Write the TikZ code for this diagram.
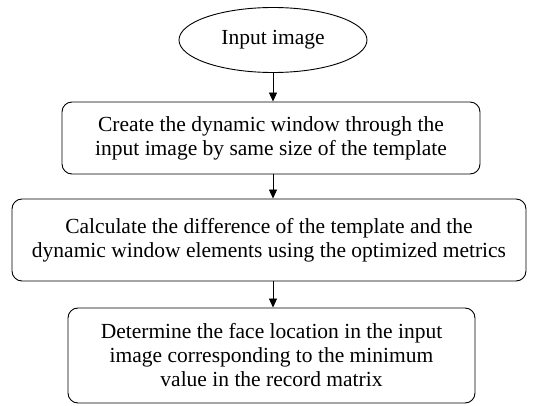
\documentclass[tikz,border=0pt]{standalone}
\usepackage{fontspec}
\setmainfont{Liberation Serif}
\usetikzlibrary{shapes.geometric,arrows.meta}
\begin{document}
\begin{tikzpicture}[x=1pt,y=1pt,
  every node/.style={font=\fontsize{21.5}{24}\selectfont, align=center, inner sep=0pt},
  proc/.style={draw, rounded corners=10pt, line width=0.9pt},
  term/.style={draw, ellipse, line width=0.9pt},
  flow/.style={-{Triangle[length=9pt,width=8pt]}, line width=0.9pt}]
\useasboundingbox (0,0) rectangle (544,-406);
\node[term, minimum width=188pt, minimum height=65pt] (a) at (273,-40) {Input image};
\node[proc, minimum width=418pt, minimum height=72pt] (b) at (271,-138) {Create the dynamic window through the\\input image by same size of the template};
\node[proc, minimum width=514pt, minimum height=82pt] (c) at (269,-240) {Calculate the difference of the template and the\\dynamic window elements using the optimized metrics};
\node[proc, minimum width=407pt, minimum height=95pt] (d) at (271.5,-355.5) {Determine the face location in the input\\image corresponding to the minimum\\value in the record matrix};
\draw[flow] (a.south -| 273,0) -- (b.north -| 273,0);
\draw[flow] (b.south -| 273,0) -- (c.north -| 273,0);
\draw[flow] (c.south -| 273,0) -- (d.north -| 273,0);
\end{tikzpicture}
\end{document}
